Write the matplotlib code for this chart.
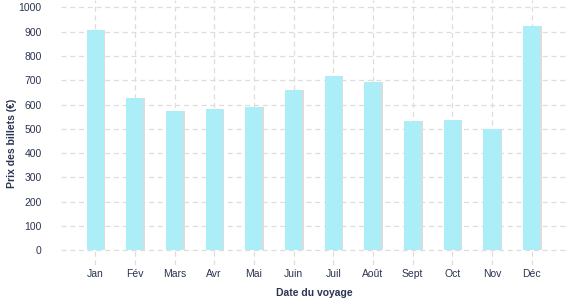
import matplotlib
matplotlib.use("Agg")
import matplotlib.pyplot as plt
import matplotlib.transforms as mtransforms

months = ["Jan", "Fév", "Mars", "Avr", "Mai", "Juin", "Juil", "Août", "Sept", "Oct", "Nov", "Déc"]
prices = [905, 625, 572, 580, 588, 658, 716, 691, 531, 535, 498, 922]
yticks = [0, 100, 200, 300, 400, 500, 600, 700, 800, 900, 1000]

plt.rcParams['font.family'] = ['Liberation Sans', 'DejaVu Sans']
text_color = "#2b3550"

fig = plt.figure(figsize=(5.77, 3.0), dpi=100)
ax = fig.add_axes([61/577, 35/300, 506/577, 265/300])

x = list(range(len(months)))
shadow_tr = mtransforms.offset_copy(ax.transData, fig=fig, x=1.5, y=0, units='dots')
ax.bar(x, prices, width=0.43, color="#dcdcdc", transform=shadow_tr, zorder=2)
ax.bar(x, prices, width=0.43, color="#aceef8", zorder=3)

ax.set_xlim(-0.86, 11.89)
ax.set_ylim(-60, 1030)
ax.set_yticks(yticks)
ax.set_xticks(x)
ax.set_xticklabels(months)

ax.grid(True, color="#dddddd", linestyle=(0, (4, 3)), linewidth=0.9, zorder=0)
for s in ax.spines.values():
    s.set_visible(False)
ax.tick_params(length=0, colors=text_color, labelsize=7.5)
ax.tick_params(axis='y', pad=14)
ax.tick_params(axis='x', pad=3)

ax.set_xlabel("Date du voyage", fontsize=7.5, fontweight='bold', color=text_color, labelpad=6)
ax.set_ylabel("Prix des billets (€)", fontsize=7.5, fontweight='bold', color=text_color)
ax.yaxis.set_label_coords(-0.087, 0.46)

fig.savefig("out.png", dpi=100)
